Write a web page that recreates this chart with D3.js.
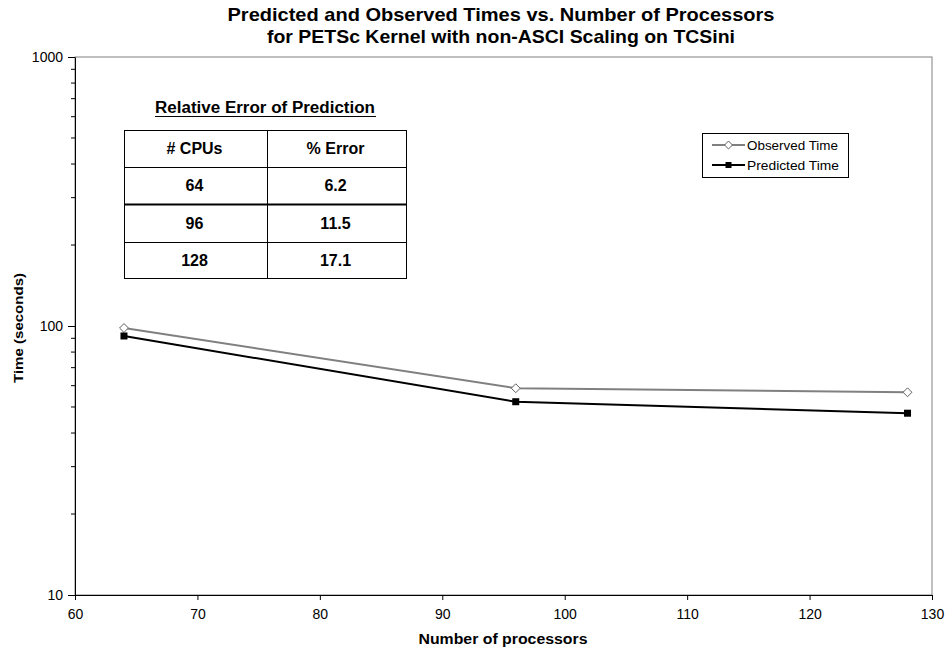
<!DOCTYPE html>
<html>
<head>
<meta charset="utf-8">
<script src="https://cdn.jsdelivr.net/npm/d3@7"></script>
<style>
  body { margin: 0; background: #fff; }
  svg { font-family: "Liberation Sans", Arial, sans-serif; }
</style>
</head>
<body>
<div id="chart"></div>
<script>
// Chart data
const processors = [64, 96, 128];
const observedTime = [98.3, 58.7, 56.7];
const predictedTime = [91.8, 52.3, 47.4];
const xTicks = [60, 70, 80, 90, 100, 110, 120, 130];
const yTicks = [10, 100, 1000];

const tableHeader = ['# CPUs', '% Error'];
const tableCpus = ['64', '96', '128'];
const tableError = ['6.2', '11.5', '17.1'];

const width = 948, height = 653;
const margin = { left: 75, right: 16, top: 57, bottom: 58 };

const svg = d3.select('#chart').append('svg')
    .attr('width', width)
    .attr('height', height);

const x = d3.scaleLinear().domain([60, 130]).range([margin.left, width - margin.right]);
const y = d3.scaleLog().domain([10, 1000]).range([height - margin.bottom, margin.top]);

// Plot area frame
svg.append('rect')
    .attr('x', x(60)).attr('y', y(1000))
    .attr('width', x(130) - x(60)).attr('height', y(10) - y(1000))
    .attr('fill', 'none').attr('stroke', '#808080').attr('stroke-width', 1);

// Minor ticks on the log axis
const minor = [];
[10, 100].forEach(d => { for (let k = 2; k <= 9; k++) minor.push(d * k); });
svg.append('g').selectAll('line').data(minor).join('line')
    .attr('x1', x(60) - 4).attr('x2', x(60))
    .attr('y1', d => y(d)).attr('y2', d => y(d))
    .attr('stroke', '#000');

// Axes
const xAxis = svg.append('g')
    .attr('transform', `translate(0,${y(10)})`)
    .call(d3.axisBottom(x).tickValues(xTicks).tickSize(5).tickSizeOuter(0).tickPadding(9));
const yAxis = svg.append('g')
    .attr('transform', `translate(${x(60)},0)`)
    .call(d3.axisLeft(y).tickValues(yTicks).tickFormat(d3.format('d')).tickSize(7).tickSizeOuter(0).tickPadding(5));

[xAxis, yAxis].forEach(g => {
    g.select('.domain').attr('stroke', '#000');
    g.selectAll('.tick line').attr('stroke', '#000');
    g.selectAll('.tick text').attr('font-size', 14).attr('fill', '#000')
        .attr('font-family', '"Liberation Sans", Arial, sans-serif');
});
yAxis.selectAll('.tick text').attr('dy', '0.35em');

// Series
const line = d3.line().x(d => x(d[0])).y(d => y(d[1]));
const obs = processors.map((p, i) => [p, observedTime[i]]);
const pred = processors.map((p, i) => [p, predictedTime[i]]);

svg.append('path').datum(obs)
    .attr('d', line).attr('fill', 'none')
    .attr('stroke', '#808080').attr('stroke-width', 2);
svg.append('path').datum(pred)
    .attr('d', line).attr('fill', 'none')
    .attr('stroke', '#000').attr('stroke-width', 2);

const diamond = d3.symbol().type(d3.symbolDiamond2).size(50);
svg.append('g').selectAll('path').data(obs).join('path')
    .attr('transform', d => `translate(${x(d[0])},${y(d[1])})`)
    .attr('d', diamond)
    .attr('fill', '#fff').attr('stroke', '#606060').attr('stroke-width', 1);
svg.append('g').selectAll('rect').data(pred).join('rect')
    .attr('x', d => x(d[0]) - 3.5).attr('y', d => y(d[1]) - 3.5)
    .attr('width', 7).attr('height', 7).attr('fill', '#000');

// Titles
const title = svg.append('text')
    .attr('text-anchor', 'middle')
    .attr('font-size', 19).attr('font-weight', 'bold');
title.append('tspan').attr('x', 501).attr('y', 21)
    .attr('textLength', 547).attr('lengthAdjust', 'spacingAndGlyphs')
    .text('Predicted and Observed Times vs. Number of Processors');
title.append('tspan').attr('x', 501).attr('y', 43)
    .attr('textLength', 468).attr('lengthAdjust', 'spacingAndGlyphs')
    .text('for PETSc Kernel with non-ASCI Scaling on TCSini');

svg.append('text')
    .attr('x', 503).attr('y', 644).attr('text-anchor', 'middle')
    .attr('font-size', 14).attr('font-weight', 'bold')
    .attr('textLength', 169).attr('lengthAdjust', 'spacingAndGlyphs')
    .text('Number of processors');

svg.append('text')
    .attr('transform', `translate(23,${y(100) + 2}) rotate(-90)`)
    .attr('text-anchor', 'middle')
    .attr('font-size', 13).attr('font-weight', 'bold')
    .attr('textLength', 110).attr('lengthAdjust', 'spacingAndGlyphs')
    .text('Time (seconds)');

// Legend
const legend = svg.append('g');
legend.append('rect')
    .attr('x', 702.5).attr('y', 133.5).attr('width', 146).attr('height', 44)
    .attr('fill', '#fff').attr('stroke', '#000');
const legendItems = [
    { name: 'Observed Time', color: '#808080', marker: 'diamond' },
    { name: 'Predicted Time', color: '#000', marker: 'square' }
];
legendItems.forEach((item, i) => {
    const ly = 145 + i * 20;
    legend.append('line')
        .attr('x1', 712).attr('x2', 745).attr('y1', ly).attr('y2', ly)
        .attr('stroke', item.color).attr('stroke-width', 2);
    if (item.marker === 'diamond') {
        legend.append('path')
            .attr('transform', `translate(728.5,${ly})`)
            .attr('d', d3.symbol().type(d3.symbolDiamond2).size(40))
            .attr('fill', '#fff').attr('stroke', '#606060');
    } else {
        legend.append('rect')
            .attr('x', 725.5).attr('y', ly - 3).attr('width', 6).attr('height', 6)
            .attr('fill', '#000');
    }
    legend.append('text')
        .attr('x', 747).attr('y', ly).attr('dy', '0.35em')
        .attr('font-size', 13).attr('textLength', i === 0 ? 91 : 92).attr('lengthAdjust', 'spacingAndGlyphs')
        .text(item.name);
});

// Error table
const table = svg.append('g');
table.append('text')
    .attr('x', 265).attr('y', 113).attr('text-anchor', 'middle')
    .attr('font-size', 16).attr('font-weight', 'bold')
    .attr('textLength', 220).attr('lengthAdjust', 'spacingAndGlyphs')
    .text('Relative Error of Prediction');
table.append('line')
    .attr('x1', 155).attr('x2', 376).attr('y1', 116.5).attr('y2', 116.5)
    .attr('stroke', '#000');

const tx0 = 124, tx1 = 267, tx2 = 406;
const rowEdges = [130, 167, 204, 242, 278];
table.append('rect')
    .attr('x', tx0 + 0.5).attr('y', rowEdges[0] + 0.5)
    .attr('width', tx2 - tx0).attr('height', rowEdges[4] - rowEdges[0])
    .attr('fill', 'none').attr('stroke', '#000');
table.append('line')
    .attr('x1', tx1 + 0.5).attr('x2', tx1 + 0.5).attr('y1', rowEdges[0]).attr('y2', rowEdges[4])
    .attr('stroke', '#000');
rowEdges.slice(1, 4).forEach((ry, i) => {
    table.append('line')
        .attr('x1', tx0).attr('x2', tx2 + 1).attr('y1', ry + 0.5).attr('y2', ry + 0.5)
        .attr('stroke', '#000').attr('stroke-width', i === 1 ? 2 : 1);
});
const rows = [tableHeader].concat(tableCpus.map((c, i) => [c, tableError[i]]));
rows.forEach((r, i) => {
    const cy = (rowEdges[i] + rowEdges[i + 1]) / 2;
    [(tx0 + tx1) / 2 - 1, (tx1 + tx2) / 2 - 1].forEach((cx, j) => {
        table.append('text')
            .attr('x', cx).attr('y', cy).attr('dy', '0.35em')
            .attr('text-anchor', 'middle')
            .attr('font-size', 16).attr('font-weight', 'bold')
            .text(r[j]);
    });
});
</script>
</body>
</html>
